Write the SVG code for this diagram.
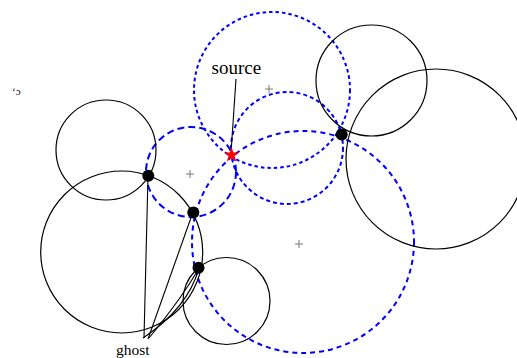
<svg xmlns="http://www.w3.org/2000/svg" width="517" height="358" viewBox="0 0 517 358">
<style>
.bc{fill:none;stroke:#000;stroke-width:1.2}
.dc{fill:none;stroke:#0000ff;stroke-width:2}
.ctr{stroke:#777;stroke-width:1}
.dot{fill:#000}
.ln{fill:none;stroke:#000;stroke-width:1.1}
.lbl{font-family:"Liberation Serif","Times New Roman",serif;fill:#000}
</style>
<rect width="517" height="358" fill="#fff"/>
<g id="dashed-circles">
<circle id="circleA" class="dc" cx="191" cy="172" r="45" stroke-dasharray="7 4"/>
<circle id="circleB" class="dc" cx="303" cy="242" r="111" stroke-dasharray="5 4"/>
<circle id="circleC" class="dc" cx="287" cy="148" r="56" stroke-dasharray="4 3"/>
<circle id="circleD" class="dc" cx="272" cy="90" r="78" stroke-dasharray="3.5 3"/>
</g>
<g id="solid-circles">
<circle id="circleE" class="bc" cx="106" cy="150" r="50"/>
<circle id="circleF" class="bc" cx="121.7" cy="252" r="81"/>
<circle id="circleG" class="bc" cx="226.5" cy="301" r="43.5"/>
<circle id="circleH" class="bc" cx="371.5" cy="80.5" r="55.5"/>
<circle id="circleI" class="bc" cx="436" cy="159" r="90"/>
</g>
<g id="centers">
<path class="ctr" d="M186,174h8M190,170v8"/>
<path class="ctr" d="M265,89h8M269,85v8"/>
<path class="ctr" d="M295,244h8M299,240v8"/>
</g>
<g id="connectors">
<line class="ln" x1="236" y1="79" x2="231" y2="153"/>
<line class="ln" x1="148" y1="176" x2="144" y2="338"/>
<line class="ln" x1="193" y1="212" x2="148" y2="339"/>
<path class="ln" d="M199,268 Q188,308 143,338"/>
<path class="ln" d="M199,268 Q182,298 149,338"/>
</g>
<g id="ghost1"><circle class="dot" cx="148.3" cy="175.7" r="6"/></g>
<g id="ghost2"><circle class="dot" cx="193.3" cy="212.5" r="6"/></g>
<g id="ghost3"><circle class="dot" cx="198.5" cy="267.7" r="6"/></g>
<g id="ghost4"><circle class="dot" cx="341.7" cy="134.5" r="6"/></g>
<g id="source">
<polygon fill="#ff0000" points="231.5,147 233.38,152.41 239.11,152.53 234.54,155.99 236.2,161.47 231.5,158.2 226.8,161.47 228.46,155.99 223.89,152.53 229.62,152.41"/>
</g>
<g id="labels">
<text class="lbl" x="211.5" y="74" font-size="19">source</text>
<text class="lbl" x="116" y="355" font-size="15.5">ghost</text>
<text class="lbl" x="12" y="95" font-size="11">‘ɔ</text>
</g>
</svg>
